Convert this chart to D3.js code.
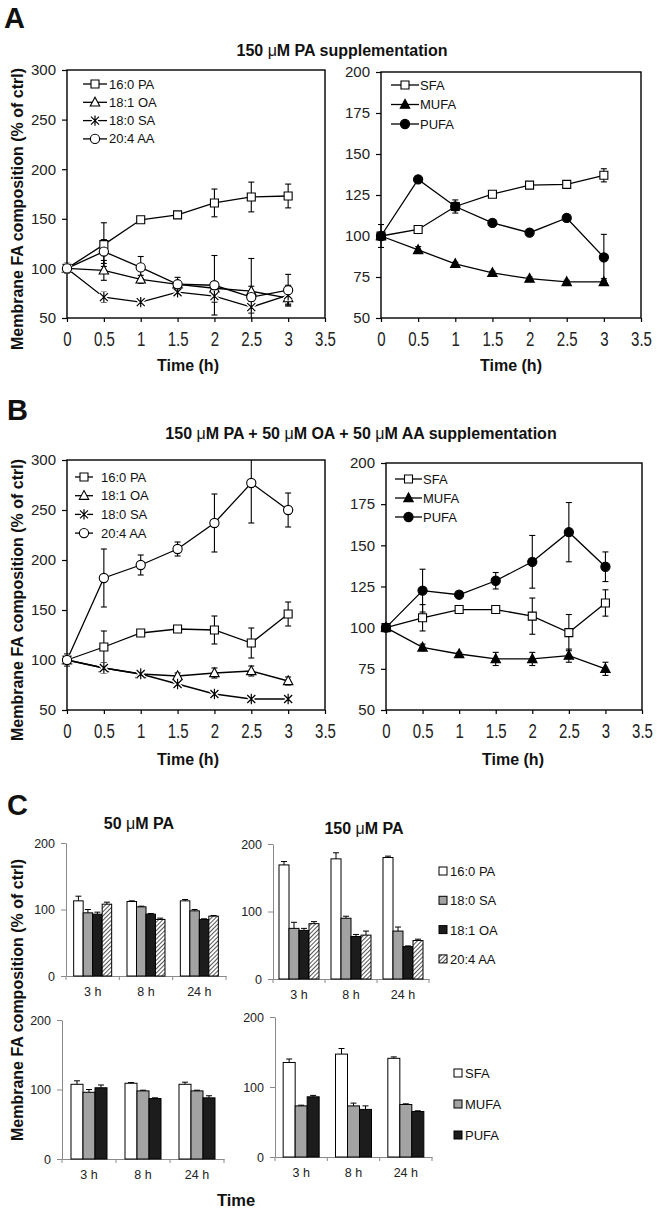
<!DOCTYPE html>
<html><head><meta charset="utf-8">
<script src="https://cdn.jsdelivr.net/npm/d3@7"></script>
<style>body{margin:0;background:#fff}</style>
</head><body>
<svg id="c" width="657" height="1211"></svg>
<script>
// ---------- DATA ----------
const timeH = [0, 0.5, 1, 1.5, 2, 2.5, 3];
const timeTicks = [0, 0.5, 1, 1.5, 2, 2.5, 3, 3.5];
const faNames = ["16:0 PA", "18:1 OA", "18:0 SA", "20:4 AA"];
const classNames = ["SFA", "MUFA", "PUFA"];
const yTicksFA = [50, 100, 150, 200, 250, 300];
const yTicksClass = [50, 75, 100, 125, 150, 175, 200];

// Panel A: 150 uM PA supplementation
const aPA = [100, 124, 149, 154, 166, 172, 173];
const aPAErr = [5, 22, 2, 2, 14, 15, 12];
const aOA = [100, 98, 89, 84, 80, 77, 70];
const aOAErr = [5, 10, 4, 3, 3, 5, 6];
const aSA = [100, 71, 66, 76, 72, 61, 73];
const aSAErr = [5, 5, 4, 4, 6, 6, 10];
const aAA = [100, 117, 101, 84, 83, 71, 78];
const aAAErr = [4, 12, 11, 7, 30, 39, 16];
const aSFA = [100, 104, 118, 125.5, 131, 131.5, 137];
const aSFAErr = [7, 1, 2, 1, 1, 1, 4];
const aMUFA = [100, 91.5, 83, 77.5, 74, 72, 72];
const aMUFAErr = [1, 2, 1, 1, 1, 1, 2];
const aPUFA = [100, 134.5, 118, 108, 102, 111, 87];
const aPUFAErr = [1, 1, 4, 2, 1, 2, 14];

// Panel B: 150 uM PA + 50 uM OA + 50 uM AA
const bPA = [100, 113, 127, 131, 130, 117, 146];
const bPAErr = [4, 16, 2, 2, 14, 15, 12];
const bOA = [100, 92, 86, 84, 87, 89, 79];
const bOAErr = [4, 4, 3, 3, 5, 5, 4];
const bSA = [100, 92, 86, 76, 66, 61, 61];
const bSAErr = [4, 5, 4, 3, 4, 3, 3];
const bAA = [100, 182, 195, 211, 237, 277, 250];
const bAAErr = [6, 29, 10, 7, 29, 40, 17];
const bSFA = [100, 106, 111, 111, 107, 97, 115];
const bSFAErr = [1, 8, 1, 1, 11, 11, 8];
const bMUFA = [100, 88, 84, 81, 81, 83, 75];
const bMUFAErr = [1, 2, 1, 4, 4, 4, 4];
const bPUFA = [100, 122.5, 120, 128.5, 140, 158, 137];
const bPUFAErr = [1, 13, 2, 5, 16, 18, 9];

// Panel C: bars
const timeCats = ["3 h", "8 h", "24 h"];
const barTicks = [0, 100, 200];
const barFANames = ["16:0 PA", "18:0 SA", "18:1 OA", "20:4 AA"];
const c50PA = [113, 112, 113], c50PAErr = [7, 1, 2];
const c50SA = [95, 104, 98], c50SAErr = [5, 1, 2];
const c50OA = [93, 93, 85], c50OAErr = [3, 1, 1];
const c50AA = [108, 85, 90], c50AAErr = [3, 2, 1];
const c150PA = [169, 178, 180], c150PAErr = [5, 9, 2];
const c150SA = [75, 90, 71], c150SAErr = [9, 3, 6];
const c150OA = [72, 63, 48], c150OAErr = [3, 3, 1];
const c150AA = [82, 65, 57], c150AAErr = [3, 6, 2];
const c50SFA = [107.5, 109, 107.5], c50SFAErr = [5, 1, 3];
const c50MUFA = [96, 98, 98], c50MUFAErr = [4, 1, 1];
const c50PUFA = [102.5, 87, 88], c50PUFAErr = [4, 1, 3];
const c150SFA = [135, 147, 141], c150SFAErr = [5, 8, 2];
const c150MUFA = [73, 73, 75], c150MUFAErr = [1, 4, 1];
const c150PUFA = [86, 68, 65], c150PUFAErr = [2, 5, 1];

// ---------- DRAWING ----------
const FONT = '"Liberation Sans", Arial, sans-serif';
const INK = "#111";
const svg = d3.select("#c").attr("font-family", FONT);
const defs = svg.append("defs");
const pat = defs.append("pattern").attr("id", "hatch").attr("patternUnits", "userSpaceOnUse")
  .attr("width", 3).attr("height", 3).attr("patternTransform", "rotate(45)");
pat.append("rect").attr("width", 3).attr("height", 3).attr("fill", "#fff");
pat.append("line").attr("x1", 0.5).attr("y1", 0).attr("x2", 0.5).attr("y2", 3).attr("stroke", "#555").attr("stroke-width", 1);

function symPath(type, s) {
  switch (type) {
    case "sq": return `M${-s},${-s}H${s}V${s}H${-s}Z`;
    case "tri": return `M0,${-s * 1.2}L${s * 1.1},${s * 0.85}L${-s * 1.1},${s * 0.85}Z`;
    case "star": return `M${-s},${-s}L${s},${s}M${s},${-s}L${-s},${s}M0,${-s * 1.3}V${s * 1.3}`;
    case "circ": return d3.symbol(d3.symbolCircle, Math.PI * s * s)();
  }
}
const symSize = { sq: 4, tri: 4.3, star: 4, circ: 4.6 };

function drawMarker(g, type, filled, cx, cy) {
  const s = symSize[type];
  const p = symPath(type, s);
  if (type === "star") {
    g.append("path").attr("d", p).attr("transform", `translate(${cx},${cy})`)
      .attr("stroke", "#fff").attr("stroke-width", 4).attr("fill", "none");
    g.append("path").attr("d", p).attr("transform", `translate(${cx},${cy})`)
      .attr("stroke", "#000").attr("stroke-width", 1.2).attr("fill", "none");
  } else {
    g.append("path").attr("d", p).attr("transform", `translate(${cx},${cy})`)
      .attr("stroke", "#000").attr("stroke-width", 1.1).attr("fill", filled ? "#000" : "#fff");
  }
}

function lineChart(o) {
  const x = d3.scaleLinear().domain([0, 3.5]).range(o.xr);
  const y = d3.scaleLinear().domain(o.ydom).range(o.yr);
  const [x0, x1] = o.xr, [yb, yt] = o.yr;
  const g = svg.append("g");
  const gx = g.append("g").attr("transform", `translate(0,${yb})`)
    .call(d3.axisBottom(x).tickValues(timeTicks).tickSize(4).tickSizeOuter(0).tickPadding(12).tickFormat(d3.format("")));
  const gy = g.append("g").attr("transform", `translate(${x0},0)`)
    .call(d3.axisLeft(y).tickValues(o.yticks).tickSize(5).tickSizeOuter(0).tickPadding(6));
  [gx, gy].forEach(a => {
    a.attr("font-family", FONT).attr("font-size", 15);
    a.select(".domain").remove();
    a.selectAll("line").attr("stroke", "#000").attr("stroke-width", 1.2);
    a.selectAll("text").attr("fill", "#222");
  });
  // x tick labels in the reference are vertically elongated
  gx.selectAll("text").attr("transform", "scale(1,1.3)").attr("y", 28 / 1.3 - 10.65).attr("dy", "0.71em");
  g.append("rect").attr("x", x0).attr("y", yt).attr("width", x1 - x0).attr("height", yb - yt)
    .attr("fill", "none").attr("stroke", "#000").attr("stroke-width", 1.4);
  const line = d3.line().x((d, i) => x(timeH[i])).y(d => y(d));
  o.series.forEach(s => {
    g.append("path").attr("d", line(s.vals)).attr("fill", "none").attr("stroke", "#000").attr("stroke-width", 1.3);
  });
  o.series.forEach(s => {
    s.vals.forEach((v, i) => {
      const cx = x(timeH[i]);
      let top = y(v + s.errs[i]), bot = y(v - s.errs[i]);
      const clipTop = top < yt; if (clipTop) top = yt;
      const clipBot = bot > yb; if (clipBot) bot = yb;
      g.append("line").attr("x1", cx).attr("x2", cx).attr("y1", top).attr("y2", bot).attr("stroke", "#000").attr("stroke-width", 1.1);
      if (!clipTop) g.append("line").attr("x1", cx - 3).attr("x2", cx + 3).attr("y1", top).attr("y2", top).attr("stroke", "#000").attr("stroke-width", 1.1);
      if (!clipBot) g.append("line").attr("x1", cx - 3).attr("x2", cx + 3).attr("y1", bot).attr("y2", bot).attr("stroke", "#000").attr("stroke-width", 1.1);
    });
  });
  o.series.forEach(s => {
    s.vals.forEach((v, i) => drawMarker(g, s.sym, s.filled, x(timeH[i]), y(v)));
  });
  // legend
  o.series.forEach((s, i) => {
    const ly = o.leg.y + i * o.leg.dy;
    g.append("line").attr("x1", o.leg.x).attr("x2", o.leg.x + o.leg.len).attr("y1", ly).attr("y2", ly)
      .attr("stroke", "#000").attr("stroke-width", 1.3);
    drawMarker(g, s.sym, s.filled, o.leg.x + o.leg.len / 2, ly);
    g.append("text").attr("x", o.leg.x + o.leg.len + o.leg.gap).attr("y", ly + 4.5).attr("font-size", 13)
      .attr("fill", INK).text(s.name);
  });
}

function barChart(o) {
  const n = o.series.length;
  const x0 = d3.scaleBand().domain(timeCats).range(o.xr);
  const x1 = d3.scaleBand().domain(d3.range(n)).range([0, o.barW * n]);
  const y = d3.scaleLinear().domain([0, 200]).range(o.yr);
  const g = svg.append("g");
  const gy = g.append("g").attr("transform", `translate(${o.xr[0]},0)`)
    .call(d3.axisLeft(y).tickValues(barTicks).tickSize(5).tickSizeOuter(0).tickPadding(6));
  const gx = g.append("g").attr("transform", `translate(0,${o.yr[0]})`)
    .call(d3.axisBottom(x0).tickSize(0).tickSizeOuter(0).tickPadding(11));
  [gx, gy].forEach(a => {
    a.attr("font-family", FONT).attr("font-size", 12.5);
    a.select(".domain").attr("stroke", "#8a8a8a").attr("stroke-width", 1);
    a.selectAll(".tick line").attr("stroke", "#8a8a8a");
    a.selectAll("text").attr("fill", "#222");
  });
  const bounds = timeCats.map(c => x0(c)).concat([o.xr[1]]);
  bounds.forEach(bx => g.append("line").attr("x1", bx).attr("x2", bx).attr("y1", o.yr[0]).attr("y2", o.yr[0] + 4)
    .attr("stroke", "#8a8a8a"));
  timeCats.forEach((c, i) => {
    const off = x0(c) + (x0.bandwidth() - x1.range()[1]) / 2 + (o.shift || 0);
    o.series.forEach((s, j) => {
      const bx = off + x1(j), v = s.vals[i];
      g.append("rect").attr("x", bx).attr("y", y(v)).attr("width", x1.bandwidth()).attr("height", y(0) - y(v))
        .attr("fill", s.fill).attr("stroke", "#000").attr("stroke-width", 1);
      const cx = bx + x1.bandwidth() / 2, ty = y(v + s.errs[i]);
      g.append("line").attr("x1", cx).attr("x2", cx).attr("y1", y(v)).attr("y2", ty).attr("stroke", "#000");
      g.append("line").attr("x1", cx - 3).attr("x2", cx + 3).attr("y1", ty).attr("y2", ty).attr("stroke", "#000");
    });
  });
  if (o.leg) {
    o.series.forEach((s, i) => {
      const ly = o.leg.y + i * o.leg.dy;
      g.append("rect").attr("x", o.leg.x).attr("y", ly - 4).attr("width", 8).attr("height", 8)
        .attr("fill", s.fill).attr("stroke", "#000").attr("stroke-width", 1);
      g.append("text").attr("x", o.leg.x + 11).attr("y", ly + 5).attr("font-size", 13).attr("fill", INK).text(s.name);
    });
  }
}

function boldText(x, y, parts, size, anchor) {
  const t = svg.append("text").attr("x", x).attr("y", y).attr("font-size", size)
    .attr("font-weight", "bold").attr("text-anchor", anchor || "middle").attr("fill", INK);
  parts.forEach(p => {
    const ts = t.append("tspan").text(p);
    if (p === "\u03bc") ts.attr("font-weight", "normal");
  });
  return t;
}
function yTitle(cy) {
  svg.append("text").attr("transform", `translate(23,${cy}) rotate(-90)`).attr("text-anchor", "middle")
    .attr("font-size", 16).attr("font-weight", "bold").attr("fill", INK)
    .text("Membrane FA composition (% of ctrl)");
}

// Panel letters
boldText(4, 28, ["A"], 29, "start");
boldText(7, 420, ["B"], 29, "start");
boldText(7, 815, ["C"], 29, "start");

// Titles
boldText(342, 56, ["150 ", "\u03bc", "M PA supplementation"], 16);
boldText(361, 439, ["150 ", "\u03bc", "M PA + 50 ", "\u03bc", "M OA + 50 ", "\u03bc", "M AA supplementation"], 16);
boldText(139, 829, ["50 ", "\u03bc", "M PA"], 16);
boldText(364, 834, ["150 ", "\u03bc", "M PA"], 16);

yTitle(209); yTitle(600); yTitle(1000);

boldText(188, 371, ["Time (h)"], 16);
boldText(511, 371, ["Time (h)"], 16);
boldText(188, 765, ["Time (h)"], 16);
boldText(513, 765, ["Time (h)"], 16);
boldText(236, 1206, ["Time"], 16.5);

// A left
lineChart({ xr: [67, 325], yr: [318, 70], ydom: [50, 300], yticks: yTicksFA,
  series: [
    { name: faNames[0], vals: aPA, errs: aPAErr, sym: "sq" },
    { name: faNames[1], vals: aOA, errs: aOAErr, sym: "tri" },
    { name: faNames[2], vals: aSA, errs: aSAErr, sym: "star" },
    { name: faNames[3], vals: aAA, errs: aAAErr, sym: "circ" }],
  leg: { x: 83, y: 84, dy: 18.3, len: 24, gap: 2 } });
// A right
lineChart({ xr: [381, 641], yr: [318, 72], ydom: [50, 200], yticks: yTicksClass,
  series: [
    { name: classNames[0], vals: aSFA, errs: aSFAErr, sym: "sq" },
    { name: classNames[1], vals: aMUFA, errs: aMUFAErr, sym: "tri", filled: true },
    { name: classNames[2], vals: aPUFA, errs: aPUFAErr, sym: "circ", filled: true }],
  leg: { x: 391, y: 85, dy: 19.5, len: 28, gap: 1 } });
// B left
lineChart({ xr: [67, 325], yr: [710, 460], ydom: [50, 300], yticks: yTicksFA,
  series: [
    { name: faNames[0], vals: bPA, errs: bPAErr, sym: "sq" },
    { name: faNames[1], vals: bOA, errs: bOAErr, sym: "tri" },
    { name: faNames[2], vals: bSA, errs: bSAErr, sym: "star" },
    { name: faNames[3], vals: bAA, errs: bAAErr, sym: "circ" }],
  leg: { x: 75, y: 477, dy: 18.7, len: 18, gap: 8 } });
// B right
lineChart({ xr: [386, 642], yr: [710, 463], ydom: [50, 200], yticks: yTicksClass,
  series: [
    { name: classNames[0], vals: bSFA, errs: bSFAErr, sym: "sq" },
    { name: classNames[1], vals: bMUFA, errs: bMUFAErr, sym: "tri", filled: true },
    { name: classNames[2], vals: bPUFA, errs: bPUFAErr, sym: "circ", filled: true }],
  leg: { x: 395, y: 479, dy: 19, len: 27, gap: 1 } });

// C bars
const faFills = ["#fff", "#a3a3a3", "#1c1c1c", "url(#hatch)"];
const clFills = ["#fff", "#a3a3a3", "#1c1c1c"];
barChart({ xr: [66, 226], yr: [976, 843], barW: 9.5,
  series: [
    { name: barFANames[0], vals: c50PA, errs: c50PAErr, fill: faFills[0] },
    { name: barFANames[1], vals: c50SA, errs: c50SAErr, fill: faFills[1] },
    { name: barFANames[2], vals: c50OA, errs: c50OAErr, fill: faFills[2] },
    { name: barFANames[3], vals: c50AA, errs: c50AAErr, fill: faFills[3] }] });
barChart({ xr: [273, 429], yr: [979, 844], barW: 10,
  series: [
    { name: barFANames[0], vals: c150PA, errs: c150PAErr, fill: faFills[0] },
    { name: barFANames[1], vals: c150SA, errs: c150SAErr, fill: faFills[1] },
    { name: barFANames[2], vals: c150OA, errs: c150OAErr, fill: faFills[2] },
    { name: barFANames[3], vals: c150AA, errs: c150AAErr, fill: faFills[3] }],
  leg: { x: 439, y: 871, dy: 29.3 } });
barChart({ xr: [62, 224], yr: [1159, 1020], barW: 12,
  series: [
    { name: classNames[0], vals: c50SFA, errs: c50SFAErr, fill: clFills[0] },
    { name: classNames[1], vals: c50MUFA, errs: c50MUFAErr, fill: clFills[1] },
    { name: classNames[2], vals: c50PUFA, errs: c50PUFAErr, fill: clFills[2] }] });
barChart({ xr: [275, 432], yr: [1157, 1017], barW: 12,
  series: [
    { name: classNames[0], vals: c150SFA, errs: c150SFAErr, fill: clFills[0] },
    { name: classNames[1], vals: c150MUFA, errs: c150MUFAErr, fill: clFills[1] },
    { name: classNames[2], vals: c150PUFA, errs: c150PUFAErr, fill: clFills[2] }],
  leg: { x: 454, y: 1073, dy: 31 } });
</script>
</body></html>
